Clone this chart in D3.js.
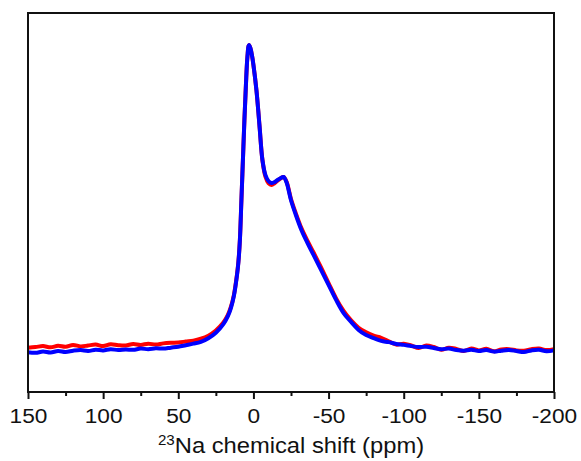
<!DOCTYPE html>
<html>
<head>
<meta charset="utf-8">
<script src="https://cdn.jsdelivr.net/npm/d3@7"></script>
<style>
  body { margin: 0; background: #fff; }
  text { font-family: "Liberation Sans", Arial, sans-serif; }
</style>
</head>
<body>
<div class="chart"></div>
<script>
// chemical shift (ppm) sampling points
var shift = [150, 145, 140, 135, 130, 125, 120, 115, 110, 105, 100, 95, 90, 85, 80, 75, 70, 65, 60, 55,
  50, 45, 40, 35, 30, 25, 20, 17, 15, 13, 11, 10, 9, 8, 7, 6, 5, 4, 3, 2, 1, 0,
  -2, -4, -6, -8, -10, -12, -14, -16, -18, -20, -22, -25, -28, -32, -36, -40, -45, -50,
  -55, -60, -65, -70, -75, -80, -85, -90, -95, -100, -105, -110, -115, -120, -125, -130,
  -135, -140, -145, -150, -155, -160, -165, -170, -175, -180, -185, -190, -195, -200];

// blue spectrum (normalised intensity)
var blueSpec = [-0.004, -0.006, -0.002, -0.005, 0.000, -0.003, 0.001, 0.003, 0.000, 0.004, 0.002, 0.006, 0.003, 0.005, 0.004, 0.008, 0.006, 0.009, 0.008, 0.011,
  0.014, 0.019, 0.024, 0.030, 0.042, 0.060, 0.088, 0.114, 0.140, 0.180, 0.245, 0.290, 0.363, 0.493, 0.624, 0.755, 0.869, 0.961, 1.000, 0.990, 0.967, 0.935,
  0.853, 0.739, 0.624, 0.575, 0.556, 0.549, 0.552, 0.559, 0.565, 0.569, 0.552, 0.493, 0.448, 0.395, 0.353, 0.314, 0.265, 0.216,
  0.167, 0.124, 0.095, 0.069, 0.052, 0.042, 0.033, 0.029, 0.023, 0.020, 0.016, 0.013, 0.014, 0.010, 0.006, 0.008,
  0.003, 0.001, 0.004, 0.000, 0.003, -0.002, 0.001, 0.003, 0.000, -0.003, 0.002, 0.004, -0.001, 0.002];

// red spectrum (normalised intensity)
var redSpec = [0.011, 0.013, 0.016, 0.012, 0.017, 0.014, 0.020, 0.015, 0.018, 0.021, 0.016, 0.022, 0.019, 0.018, 0.023, 0.020, 0.024, 0.021, 0.025, 0.027,
  0.028, 0.031, 0.034, 0.040, 0.050, 0.067, 0.093, 0.118, 0.144, 0.183, 0.248, 0.292, 0.364, 0.493, 0.624, 0.755, 0.869, 0.961, 1.000, 0.990, 0.967, 0.935,
  0.853, 0.739, 0.624, 0.570, 0.549, 0.543, 0.548, 0.557, 0.564, 0.569, 0.554, 0.497, 0.453, 0.401, 0.360, 0.322, 0.273, 0.222,
  0.172, 0.131, 0.100, 0.076, 0.061, 0.050, 0.043, 0.032, 0.021, 0.024, 0.018, 0.010, 0.018, 0.013, 0.004, 0.011,
  0.007, 0.000, 0.008, 0.002, 0.007, -0.001, 0.005, 0.006, 0.002, 0.001, 0.006, 0.008, 0.003, 0.006];

var xTicks = [150, 100, 50, 0, -50, -100, -150, -200];
var xMinor = [125, 75, 25, -25, -75, -125, -175];

var svgWidth = 581, svgHeight = 461;
// plot box edges (don't call these top/left: window.top is read-only)
var box = { left: 28, right: 554, top: 13, bottom: 392 };

var svg = d3.select(".chart").append("svg")
  .attr("width", svgWidth)
  .attr("height", svgHeight);

// scales (x axis reversed, as usual for NMR)
var x = d3.scaleLinear().domain([150, -200]).range([box.left, box.right]);
var y = d3.scaleLinear().domain([-0.134, 1.105]).range([box.bottom, box.top]);

var line = d3.line()
  .x(function (d, i) { return x(shift[i]); })
  .y(function (d) { return y(d); })
  .curve(d3.curveCatmullRom.alpha(0.5));

// spectra, red underneath blue
svg.append("path")
  .datum(redSpec)
  .attr("d", line)
  .attr("fill", "none")
  .attr("stroke", "#ff0000")
  .attr("stroke-width", 4)
  .attr("stroke-linejoin", "round");

svg.append("path")
  .datum(blueSpec)
  .attr("d", line)
  .attr("fill", "none")
  .attr("stroke", "#0000ff")
  .attr("stroke-width", 4)
  .attr("stroke-linejoin", "round");

// frame
svg.append("rect")
  .attr("x", box.left).attr("y", box.top)
  .attr("width", box.right - box.left).attr("height", box.bottom - box.top)
  .attr("fill", "none")
  .attr("stroke", "#111")
  .attr("stroke-width", 2);

// minor ticks
var minorAxis = d3.axisBottom(x).tickValues(xMinor).tickSize(4).tickFormat("");
var gm = svg.append("g")
  .attr("transform", "translate(0," + box.bottom + ")")
  .call(minorAxis);
gm.select(".domain").remove();
gm.selectAll("line").attr("stroke", "#111").attr("stroke-width", 2);

// major ticks + labels
var bottomAxis = d3.axisBottom(x).tickValues(xTicks).tickSize(7).tickPadding(9)
  .tickFormat(d3.format("d"));
var gx = svg.append("g")
  .attr("transform", "translate(0," + box.bottom + ")")
  .call(bottomAxis);
gx.select(".domain").remove();
gx.selectAll("line").attr("stroke", "#111").attr("stroke-width", 2);
gx.selectAll("text")
  .attr("font-family", "Liberation Sans, Arial, sans-serif")
  .attr("font-size", 21)
  .attr("fill", "#111")
  .attr("transform", "scale(1.08,1)")
  .text(function (d) { return String(d); });

// axis title
var title = svg.append("text")
  .attr("transform", "translate(291,453) scale(1.08,1)")
  .attr("text-anchor", "middle")
  .attr("font-size", 22)
  .attr("fill", "#111");
title.append("tspan").attr("font-size", 14).attr("dy", -8).text("23");
title.append("tspan").attr("dy", 8).text("Na chemical shift (ppm)");
</script>
</body>
</html>
